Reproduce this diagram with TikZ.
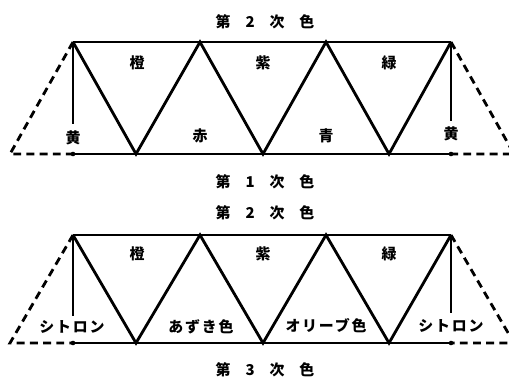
\documentclass[tikz,border=0pt]{standalone}
\usepackage{fontspec}
\newfontfamily\jpfont{Noto Sans CJK JP}
\newfontfamily\jpwide{Noto Sans CJK JP}[LetterSpace=12]
\newcommand{\jgap}{\hspace{1.0em}}

\begin{document}
\begin{tikzpicture}[x=0.02cm, y=-0.02cm,
  every node/.style={font=\jpfont\bfseries\fontsize{8.5}{10}\selectfont, inner sep=1pt},
  truss/.style={line width=1.6pt, line join=miter},
  ext/.style={line width=1.6pt, dash pattern=on 4.5pt off 3pt},
  wide/.style={font=\jpwide\bfseries\fontsize{8.5}{10}\selectfont}
]
  \clip (0,0) rectangle (509,376);

  % --- upper diagram: first and second colours
  \coordinate (ua) at (73,42);
  \coordinate (ub) at (200,42);
  \coordinate (uc) at (326,42);
  \coordinate (ud) at (451,42);
  \coordinate (la) at (136,154);
  \coordinate (lb) at (263,154);
  \coordinate (lc) at (389,154);
  \coordinate (fa) at (73,154);
  \coordinate (fd) at (451,154);
  \coordinate (xl) at (10,154);
  \coordinate (xr) at (514,154);
  \coordinate (va) at (73,124);
  \coordinate (vd) at (451,121);

  \node (t2a) at (265,22) {第\jgap 2\jgap 次\jgap 色};
  \node (t1a) at (265,182) {第\jgap 1\jgap 次\jgap 色};
  \node (orA) at (137,63) {橙};
  \node (puA) at (263,63) {紫};
  \node (grA) at (389,63) {緑};
  \node (yeL) at (73,138) {黄};
  \node (rdA) at (200,136) {赤};
  \node (blA) at (326,136) {青};
  \node (yeR) at (451,134) {黄};

  \draw[truss] (ua) -- (ud);
  \draw[truss] (fa) -- (fd);
  \draw[truss] (ua) -- (la) -- (ub) -- (lb) -- (uc) -- (lc) -- (ud);
  \draw[truss] (ua) -- (va);
  \draw[truss] (ud) -- (vd);
  \draw[ext] (ua) -- (xl) -- (fa);
  \draw[ext] (ud) -- (xr) -- (fd);
  \fill (fa) circle (1.3pt);
  \fill (fd) circle (1.3pt);

  % --- lower diagram: second and third colours
  \coordinate (ua2) at (73,235);
  \coordinate (ub2) at (200,235);
  \coordinate (uc2) at (326,235);
  \coordinate (ud2) at (451,235);
  \coordinate (la2) at (136,343);
  \coordinate (lb2) at (263,343);
  \coordinate (lc2) at (389,343);
  \coordinate (fa2) at (73,343);
  \coordinate (fd2) at (451,343);
  \coordinate (xl2) at (10,343);
  \coordinate (xr2) at (514,343);
  \coordinate (va2) at (73,316);
  \coordinate (vd2) at (451,313);

  \node (t2b) at (265,213) {第\jgap 2\jgap 次\jgap 色};
  \node (t3b) at (265,370) {第\jgap 3\jgap 次\jgap 色};
  \node (orB) at (137,254) {橙};
  \node (puB) at (263,254) {紫};
  \node (grB) at (389,254) {緑};
  \node[wide] (ciL) at (72,327) {シトロン};
  \node[wide] (azB) at (201,327) {あずき色};
  \node[wide] (olB) at (326,326) {オリーブ色};
  \node[wide] (ciR) at (451,326) {シトロン};

  \draw[truss] (ua2) -- (ud2);
  \draw[truss] (fa2) -- (fd2);
  \draw[truss] (ua2) -- (la2) -- (ub2) -- (lb2) -- (uc2) -- (lc2) -- (ud2);
  \draw[truss] (ua2) -- (va2);
  \draw[truss] (ud2) -- (vd2);
  \draw[ext] (ua2) -- (xl2) -- (fa2);
  \draw[ext] (ud2) -- (xr2) -- (fd2);
  \fill (fa2) circle (1.3pt);
  \fill (fd2) circle (1.3pt);
\end{tikzpicture}
\end{document}
